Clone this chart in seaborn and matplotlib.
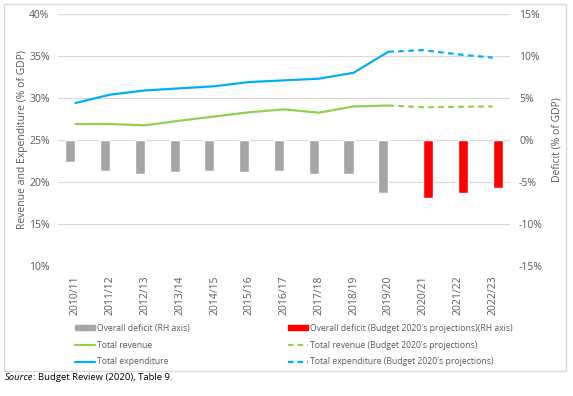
import matplotlib
matplotlib.use('Agg')
import matplotlib.pyplot as plt
import matplotlib.patches as mpatches
from matplotlib.lines import Line2D
from matplotlib.ticker import FuncFormatter
import seaborn as sns
import pandas as pd
import numpy as np

# values (% of GDP)
years = ['2010/11', '2011/12', '2012/13', '2013/14', '2014/15', '2015/16', '2016/17',
         '2017/18', '2018/19', '2019/20', '2020/21', '2021/22', '2022/23']
deficit_actual = [-2.6, -3.65, -4.1, -3.8, -3.65, -3.8, -3.65, -4.1, -4.1, -6.35]
deficit_proj = [-6.85, -6.3, -5.75]
revenue = [26.9, 26.9, 26.75, 27.3, 27.8, 28.3, 28.65, 28.25, 29.0, 29.1]
revenue_proj = [29.1, 28.9, 28.95, 29.0]
expenditure = [29.4, 30.4, 30.9, 31.15, 31.4, 31.9, 32.1, 32.3, 33.0, 35.5]
expenditure_proj = [35.5, 35.7, 35.2, 34.8]

lab_def = 'Overall deficit (RH axis)'
lab_def_p = "Overall deficit (Budget 2020's projections)(RH axis)"
lab_rev = 'Total revenue'
lab_rev_p = "Total revenue (Budget 2020's projections)"
lab_exp = 'Total expenditure'
lab_exp_p = "Total expenditure (Budget 2020's projections)"

GREY = '#A5A5A5'
RED = '#FF0000'
GREEN = '#92D050'
BLUE = '#00B0F0'
TXT = '#595959'
DASH = (0, (2.5, 2.0))

sns.set_style('white')
plt.rcParams['font.family'] = ['Open Sans', 'DejaVu Sans']

bars = pd.DataFrame({
    'year': years,
    'deficit': deficit_actual + deficit_proj,
    'series': [lab_def] * len(deficit_actual) + [lab_def_p] * len(deficit_proj),
})

fig = plt.figure(figsize=(5.73, 3.96), dpi=100)
ax = fig.add_axes([58 / 573, 1 - 266 / 396, 452 / 573, 252 / 396])
ax2 = ax.twinx()

x = np.arange(len(years))
n_act = len(revenue)
sns.lineplot(x=x[:n_act], y=revenue, ax=ax, color=GREEN, linewidth=1.6)
sns.lineplot(x=x[n_act - 1:], y=revenue_proj, ax=ax, color=GREEN, linewidth=1.6,
             linestyle=DASH)
sns.lineplot(x=x[:n_act], y=expenditure, ax=ax, color=BLUE, linewidth=1.6)
sns.lineplot(x=x[n_act - 1:], y=expenditure_proj, ax=ax, color=BLUE, linewidth=1.6,
             linestyle=DASH)

sns.barplot(data=bars, x='year', y='deficit', hue='series', order=years,
            hue_order=[lab_def, lab_def_p], palette=[GREY, RED], width=0.58,
            dodge=True, saturation=1, legend=False, ax=ax2)

ax.set_xlim(-0.5, len(years) - 0.5)
ax.set_ylim(10, 40)
ax.set_yticks(range(10, 41, 5))
ax2.set_ylim(-15, 15)
ax2.set_yticks(range(-15, 16, 5))
pct = FuncFormatter(lambda v, p: f'{v:.0f}%')
ax.yaxis.set_major_formatter(pct)
ax2.yaxis.set_major_formatter(pct)
ax.set_xticks(x)
ax.set_xticklabels(years, rotation=90)

ax.grid(axis='y', color='#D9D9D9', linewidth=0.8)
ax.set_axisbelow(True)
for a in (ax, ax2):
    for s in a.spines.values():
        s.set_visible(False)
    a.tick_params(length=0, labelsize=7.5, labelcolor=TXT)
ax.tick_params(axis='y', pad=6)
ax2.tick_params(axis='y', pad=6.5)
ax.tick_params(axis='x', pad=7)
ax.set_xlabel('')
ax2.set_xlabel('')
ax.set_ylabel('Revenue and Expenditure (% of GDP)', fontsize=7.5, color=TXT, labelpad=1)
ax2.set_ylabel('Deficit (% of GDP)', fontsize=7.5, color=TXT, labelpad=6)

# legend in two columns
h_left = [mpatches.Patch(color=GREY, label=lab_def),
          Line2D([], [], color=GREEN, lw=1.6, label=lab_rev),
          Line2D([], [], color=BLUE, lw=1.6, label=lab_exp)]
h_right = [mpatches.Patch(color=RED, label=lab_def_p),
           Line2D([], [], color=GREEN, lw=1.6, ls=(0, (2.5, 1.8)), label=lab_rev_p),
           Line2D([], [], color=BLUE, lw=1.6, ls=(0, (2.5, 1.8)), label=lab_exp_p)]
leg_kw = dict(loc='center left', frameon=False, fontsize=6.2, labelcolor=TXT,
              handlelength=2.3, handleheight=0.4, handletextpad=0.2, labelspacing=0.9,
              borderpad=0, borderaxespad=0)
fig.legend(handles=h_left, bbox_to_anchor=(75 / 573, 1 - 345 / 396), **leg_kw)
fig.legend(handles=h_right, bbox_to_anchor=(288 / 573, 1 - 345 / 396), **leg_kw)

# outer chart border
fig.patches.append(mpatches.Rectangle((4 / 573, 1 - 371 / 396), 562 / 573, 367 / 396,
                                      transform=fig.transFigure, fill=False,
                                      edgecolor='#D9D9D9', linewidth=1))

# source line
fig.canvas.draw()
t = fig.text(5 / 573, 1 - 377 / 396, 'Source', fontsize=6.8, style='italic',
             va='center', color='black')
bb = t.get_window_extent(fig.canvas.get_renderer())
fig.text(bb.x1 / fig.bbox.width, 1 - 377 / 396, ': Budget Review (2020), Table 9.',
         fontsize=6.8, va='center', color='black')

fig.savefig('out.png', dpi=100)
